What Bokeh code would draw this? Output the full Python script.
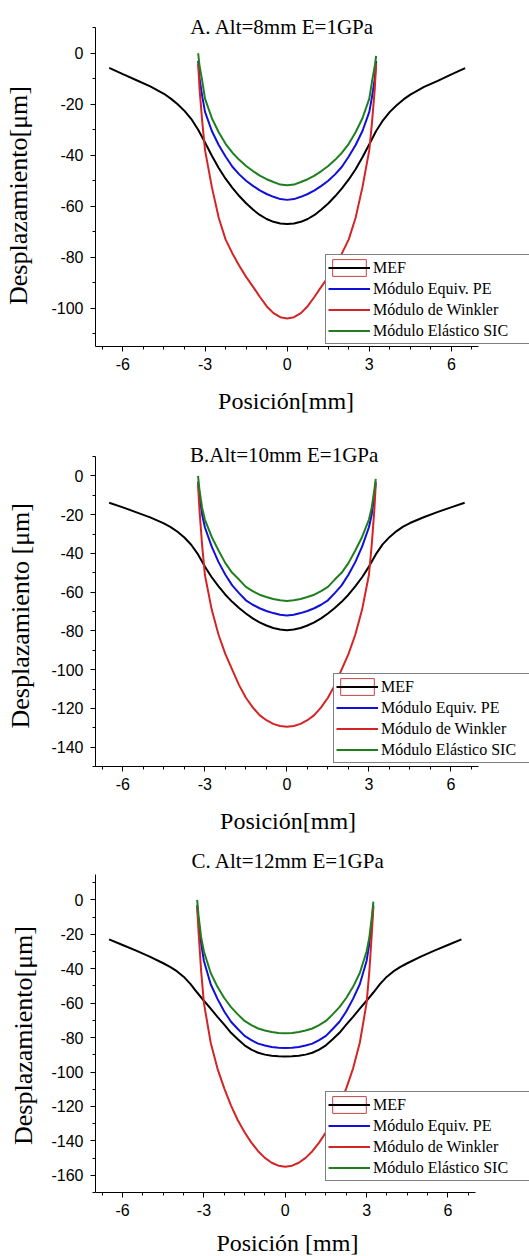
import math
from bokeh.plotting import figure
from bokeh.models import Range1d, FixedTicker, Label, Legend, LegendItem, Title
from bokeh.layouts import column
from bokeh.embed import file_html
from bokeh.resources import INLINE

# ---------------- data ----------------
X_MEF = [-6.5, -6.0, -5.5, -5.0, -4.5, -4.25, -4.0, -3.75, -3.5, -3.25, -3.0, -2.75, -2.5, -2.25,
         -2.0, -1.75, -1.5, -1.25, -1.0, -0.75, -0.5, -0.25, 0.0,
         0.25, 0.5, 0.75, 1.0, 1.25, 1.5, 1.75, 2.0, 2.25, 2.5, 2.75, 3.0, 3.25, 3.5, 3.75, 4.0,
         4.25, 4.5, 5.0, 5.5, 6.0, 6.5]
X_U = [-3.25, -3.2, -3.1, -3.0, -2.75, -2.5, -2.25, -2.0, -1.75, -1.5, -1.25, -1.0, -0.75, -0.5,
       -0.25, 0.0, 0.25, 0.5, 0.75, 1.0, 1.25, 1.5, 1.75, 2.0, 2.25, 2.5, 2.75, 3.0, 3.1, 3.2, 3.25]

# Panel A  (Alt = 8 mm)
MEF_A = [-5.7, -8.2, -10.6, -13.0, -15.9, -17.8, -20.0, -22.6, -25.8, -30.0, -35.0, -40.2, -45.0, -49.2,
         -52.8, -56.0, -58.8, -61.3, -63.4, -65.0, -66.1, -66.8, -67.0,
         -66.8, -66.1, -65.0, -63.4, -61.3, -58.9, -56.1, -53.0, -49.5, -45.5, -40.8, -35.7, -30.5,
         -26.3, -23.0, -20.4, -18.1, -16.2, -13.2, -10.8, -8.3, -5.8]
PE_A = [-3, -10, -17, -23, -30.5, -36, -40.5, -44.5, -47.5, -50, -52, -53.8, -55.2, -56.3,
        -57.2, -57.5, -57.2, -56.3, -55.2, -53.8, -52, -50, -47.5, -44.5, -40.5, -36, -30.5, -23,
        -17, -10, -3]
WINK_A = [-4, -14, -27, -38, -52.5, -64.5, -73, -78.5, -83.3, -87.7, -91.5, -95.5, -99.2, -101.9,
          -103.5, -104, -103.5, -101.9, -99.2, -95.5, -91.5, -87.7, -83.3, -78.5, -73, -64.5, -52.5,
          -38, -27, -14, -4]
SIC_A = [0, -5, -11, -17.8, -25.5, -31.0, -35.5, -39.0, -41.8, -44.2, -46.2, -48.0, -49.4, -50.5,
         -51.5, -51.8, -51.5, -50.5, -49.4, -48.0, -46.2, -44.2, -41.8, -39.0, -35.5, -31.0, -25.5,
         -17.8, -11.0, -5.0, -1.0]

# Panel B  (Alt = 10 mm)
MEF_B = [-13.8, -16.2, -18.8, -21.4, -24.5, -26.4, -28.8, -31.8, -35.5, -40.5, -46.8, -52.3, -57.0, -61.3,
         -65.0, -68.2, -71.0, -73.5, -75.6, -77.2, -78.5, -79.3, -79.6,
         -79.3, -78.5, -77.2, -75.6, -73.5, -71.0, -68.2, -65.0, -61.3, -57.0, -52.3, -46.8, -40.5,
         -35.3, -31.6, -28.6, -26.2, -24.3, -21.3, -18.7, -16.2, -13.8]
PE_B = [-3, -10, -20, -26.5, -36.5, -44.5, -51, -56.5, -60.5, -64.2, -66.5, -68.3, -69.7, -70.8,
        -71.7, -72, -71.7, -70.8, -69.7, -68.3, -66.5, -64.2, -60.5, -56.5, -51, -44.5, -36.5,
        -26.5, -20, -10, -3]
WINK_B = [-4, -17, -36, -51, -69, -82, -92, -100, -108, -114.5, -119.5, -123.5, -126.1, -128,
          -129.1, -129.5, -129.1, -128, -126.1, -123.5, -119.5, -114.5, -108, -100, -92, -82, -69,
          -51, -36, -17, -4]
SIC_B = [0, -7, -16.5, -22.5, -31.5, -38.5, -45, -50, -53.5, -57.3, -59.5, -61.3, -62.5, -63.5,
         -64.2, -64.5, -64.2, -63.5, -62.5, -61.3, -59.5, -57.3, -53.5, -50, -45, -38.5, -31.5,
         -22.5, -16.5, -7, -1.5]

# Panel C  (Alt = 12 mm)
MEF_C = [-22.9, -26.2, -29.5, -33.0, -36.8, -38.9, -41.4, -44.6, -48.8, -53.8, -58.6, -63.2, -67.9, -72.5,
         -77.2, -81.0, -84.5, -87.0, -88.8, -89.9, -90.6, -90.9, -91.0,
         -90.9, -90.6, -89.9, -88.8, -87.0, -84.5, -81.0, -77.2, -72.5, -67.9, -63.2, -58.6, -53.8,
         -48.8, -44.6, -41.4, -38.9, -36.8, -33.0, -29.5, -26.2, -22.9]
PE_C = [-3, -12, -25.5, -35.5, -49, -57.5, -64.8, -70.8, -75, -79, -81.5, -83.5, -84.6, -85.5,
        -85.9, -86, -85.9, -85.5, -84.6, -83.5, -81.5, -79, -75, -70.8, -64.8, -57.5, -49,
        -35.5, -25.5, -12, -3]
WINK_C = [-4, -18, -42, -60, -83, -98, -109.5, -119.5, -128, -135, -141, -146, -149.9, -152.7,
          -154.4, -155, -154.4, -152.7, -149.9, -146, -141, -135, -128, -119.5, -109.5, -98, -83,
          -60, -42, -18, -4]
SIC_C = [0, -9, -22, -30, -42.5, -50.5, -57, -62.3, -66.5, -70.3, -72.8, -74.7, -75.9, -76.8,
         -77.3, -77.5, -77.3, -76.8, -75.9, -74.7, -72.8, -70.3, -66.5, -62.3, -57, -50.5, -42.5,
         -30, -22, -9, -1]

TITLES = ["A. Alt=8mm E=1GPa", "B.Alt=10mm E=1GPa", "C. Alt=12mm E=1GPa"]
Y_LABELS = ["Desplazamiento[\u03bcm]", "Desplazamiento [\u03bcm]", "Desplazamiento[\u03bcm]"]
X_LABELS = ["Posici\u00f3n[mm]", "Posici\u00f3n[mm]", "Posici\u00f3n [mm]"]
SERIES_NAMES = ["MEF", "M\u00f3dulo Equiv. PE", "M\u00f3dulo de Winkler", "M\u00f3dulo El\u00e1stico SIC"]
X_TICKS = [-6, -3, 0, 3, 6]
X_MINOR = [-6.75, -6, -5.25, -4.5, -3.75, -3, -2.25, -1.5, -0.75, 0, 0.75, 1.5, 2.25, 3, 3.75, 4.5, 5.25, 6, 6.75]
Y_TICKS_A = [-100, -80, -60, -40, -20, 0]
Y_TICKS_B = [-140, -120, -100, -80, -60, -40, -20, 0]
Y_TICKS_C = [-160, -140, -120, -100, -80, -60, -40, -20, 0]
Y_MINOR_A = [-110, -100, -90, -80, -70, -60, -50, -40, -30, -20, -10, 0, 10]
Y_MINOR_B = [-150, -140, -130, -120, -110, -100, -90, -80, -70, -60, -50, -40, -30, -20, -10, 0, 10]
Y_MINOR_C = [-170, -160, -150, -140, -130, -120, -110, -100, -90, -80, -70, -60, -50, -40, -30, -20, -10, 0, 10]

# ---------------- style / layout ----------------
COLORS = ["#000000", "#1010d8", "#d42424", "#1f7f1f"]
RECT_COLOR = "#c44444"
SERIF = "Liberation Serif"
SANS = "Liberation Sans"
FIG_W = 529
NAN = float("nan")

PANELS = [
    dict(title=TITLES[0], ylabel=Y_LABELS[0], xlabel=X_LABELS[0],
         series=[MEF_A, PE_A, WINK_A, SIC_A], ylo=-115, yhi=10, yt=Y_TICKS_A, ym=Y_MINOR_A,
         h=425, bl=95, bb=79, xpx=27.38, ypx=2.55,
         title_pos=(186.7, 319.7), ylab_off=41.5, ysp=10, xlab_off=122.6, xsp=9,
         leg_pos=(230, 2), leg_w=154),
    dict(title=TITLES[1], ylabel=Y_LABELS[1], xlabel=X_LABELS[1],
         series=[MEF_B, PE_B, WINK_B, SIC_B], ylo=-150, yhi=10, yt=Y_TICKS_B, ym=Y_MINOR_B,
         h=414, bl=93, bb=73, xpx=27.47, ypx=1.937,
         title_pos=(188.7, 311.7), ylab_off=38.0, ysp=8, xlab_off=124.6, xsp=9,
         leg_pos=(238, 3), leg_w=148),
    dict(title=TITLES[2], ylabel=Y_LABELS[2], xlabel=X_LABELS[2],
         series=[MEF_C, PE_C, WINK_C, SIC_C], ylo=-170, yhi=15, yt=Y_TICKS_C, ym=Y_MINOR_C,
         h=417, bl=90, bb=64, xpx=27.42, ypx=1.7211,
         title_pos=(192.7, 331.1), ylab_off=47.5, ysp=5, xlab_off=120.9, xsp=5,
         leg_pos=(230, 11), leg_w=159),
]


def make_panel(cfg):
    frame_w = FIG_W - cfg["bl"]
    frame_h = cfg["h"] - cfg["bb"]
    # the frame runs to the top and right edges so the title and legend can sit there;
    # the axes are drawn only over the reference's data area (bounds)
    x_end = -7 + frame_w / cfg["xpx"]
    y_end = cfg["ylo"] + frame_h / cfg["ypx"]
    p = figure(width=FIG_W, height=cfg["h"], output_backend="svg", toolbar_location=None,
               title=None,
               x_range=Range1d(-7, x_end), y_range=Range1d(cfg["ylo"], y_end),
               min_border_left=cfg["bl"], min_border_right=0,
               min_border_top=0, min_border_bottom=cfg["bb"])
    p.background_fill_color = "white"
    p.border_fill_color = "white"
    p.outline_line_color = None
    p.grid.visible = False

    # axes
    p.xaxis.ticker = FixedTicker(ticks=X_TICKS, minor_ticks=X_MINOR)
    p.yaxis.ticker = FixedTicker(ticks=cfg["yt"], minor_ticks=cfg["ym"])
    p.xaxis.major_label_overrides = {t: str(t) for t in X_TICKS}
    p.yaxis.major_label_overrides = {t: str(t) for t in cfg["yt"]}
    p.xaxis.bounds = (-7, 7)
    p.yaxis.bounds = (cfg["ylo"], cfg["yhi"])
    for ax in (p.xaxis[0], p.yaxis[0]):
        ax.axis_line_color = "#000000"
        ax.axis_line_width = 1
        ax.major_tick_line_color = "#000000"
        ax.minor_tick_line_color = "#000000"
        ax.major_tick_out = 5
        ax.major_tick_in = 0
        ax.minor_tick_out = 3
        ax.minor_tick_in = 0
        ax.major_label_text_font = SANS
        ax.major_label_text_font_size = "16px"
        ax.major_label_text_color = "#000000"
        # invisible spacer label, only reserves room between tick labels and the axis title
        ax.axis_label = " "
        ax.axis_label_text_font_size = "2px"
    p.yaxis.major_label_standoff = 7
    p.xaxis.major_label_standoff = 6
    p.yaxis.axis_label_standoff = int(cfg["ysp"])
    p.xaxis.axis_label_standoff = int(cfg["xsp"])

    # axis titles
    p.add_layout(Title(text=cfg["ylabel"], align="left", offset=cfg["ylab_off"],
                       vertical_align="middle", standoff=0,
                       text_font=SERIF, text_font_size="26px", text_font_style="normal",
                       text_color="#000000"), "left")
    p.add_layout(Title(text=cfg["xlabel"], align="left", offset=cfg["xlab_off"],
                       vertical_align="middle", standoff=0,
                       text_font=SERIF, text_font_size="24px", text_font_style="normal",
                       text_color="#000000"), "below")

    # curves
    xs_list = [X_MEF, X_U, X_U, X_U]
    rends = []
    for xs, ys, c in zip(xs_list, cfg["series"], COLORS):
        rends.append(p.line(xs, ys, line_color=c, line_width=2))

    # selection-style box shown around the first legend entry (no point on the plot)
    box = p.rect(x=[NAN], y=[NAN], width=1, height=1, fill_alpha=0,
                 line_color=RECT_COLOR, line_width=1)

    items = [LegendItem(label=SERIES_NAMES[0], renderers=[box, rends[0]])]
    for name, r in zip(SERIES_NAMES[1:], rends[1:]):
        items.append(LegendItem(label=name, renderers=[r]))
    legend = Legend(items=items, location=cfg["leg_pos"], orientation="vertical",
                    padding=2, spacing=0, margin=0,
                    glyph_width=42, glyph_height=21, label_height=21,
                    label_width=cfg["leg_w"], label_standoff=3,
                    label_text_font=SERIF, label_text_font_size="16px",
                    label_text_color="#000000",
                    border_line_color="#000000", border_line_width=1,
                    background_fill_color="white", background_fill_alpha=1.0)
    p.add_layout(legend)

    # panel title inside the (extended) frame
    tx, ty = cfg["title_pos"]
    p.add_layout(Label(x=tx, y=ty, x_units="screen", y_units="screen", text=cfg["title"],
                       text_font=SERIF, text_font_size="21px", text_color="#000000",
                       text_align="center", text_baseline="alphabetic"))
    return p


plots = [make_panel(c) for c in PANELS]
layout = column(*plots, spacing=0)

open("out.html", "w").write(file_html(layout, INLINE))
